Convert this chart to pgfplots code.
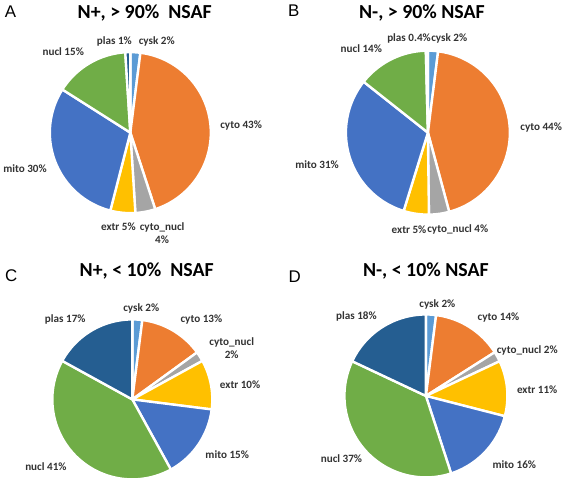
\documentclass[border=0pt]{standalone}
\usepackage{pgfplots}
\pgfplotsset{compat=1.18}
\usepackage{fontspec}
\setmainfont{Carlito}
\newfontfamily\arialf{Liberation Sans}
\definecolor{ccysk}{HTML}{5B9BD5}
\definecolor{ccyto}{HTML}{ED7D31}
\definecolor{ccn}{HTML}{A5A5A5}
\definecolor{cextr}{HTML}{FFC000}
\definecolor{cmito}{HTML}{4472C4}
\definecolor{cnucl}{HTML}{70AD47}
\definecolor{cplas}{HTML}{255E91}
\definecolor{labtxt}{HTML}{333333}
\newcommand\lf{\fontsize{11.2bp}{13bp}\selectfont\bfseries\color{labtxt}}
\newcommand\tf{\fontsize{20bp}{24bp}\selectfont\bfseries}
\newcommand\pf{\arialf\fontsize{17bp}{20bp}\selectfont}
% \pie{cx}{cy}{r}{total}{value/colour,...}  (clockwise from 12 o'clock)
\newcommand\pie[5]{%
  \gdef\pieCum{0}%
  \foreach \sliceVal/\sliceCol in {#5} {%
    \edef\sliceA{\fpeval{360*\pieCum/#4}}%
    \xdef\pieCum{\fpeval{\pieCum+\sliceVal}}%
    \edef\sliceB{\fpeval{360*\pieCum/#4}}%
    \edef\temp{\noexpand\addplot[fill=\sliceCol, draw=white, line width=2.4bp, line join=round, domain=\sliceA:\sliceB, samples=80, variable=\noexpand\t]
      ({#1+#3*sin(\noexpand\t)},{#2-#3*cos(\noexpand\t)}) -- (axis cs:#1,#2) -- cycle;}%
    \temp
  }%
}
\begin{document}
\begin{tikzpicture}
\begin{axis}[width=567bp, height=482bp, scale only axis,
  xmin=0, xmax=567, ymin=0, ymax=482, y dir=reverse,
  hide axis, clip=false,
  every node/.style={inner sep=0pt}]
\path (axis cs:0,0) rectangle (axis cs:567,482);
% A: N+, > 90% NSAF
\pie{127.5}{133.5}{81}{100}{2/ccysk, 43/ccyto, 4/ccn, 5/cextr, 30/cmito, 15/cnucl, 1/cplas}
% B: N-, > 90% NSAF
\pie{427}{133.5}{82.5}{100.4}{2/ccysk, 44/ccyto, 4/ccn, 5/cextr, 31/cmito, 14/cnucl, 0.4/cplas}
% C: N+, < 10% NSAF
\pie{129.5}{402}{80.5}{100}{2/ccysk, 13/ccyto, 2/ccn, 10/cextr, 15/cmito, 41/cnucl, 17/cplas}
% D: N-, < 10% NSAF
\pie{425}{398.5}{82}{100}{2/ccysk, 14/ccyto, 2/ccn, 11/cextr, 16/cmito, 37/cnucl, 18/cplas}

% panel letters
\node[font=\pf] at (axis cs:7,12) {A};
\node[font=\pf] at (axis cs:292,11) {B};
\node[font=\pf] at (axis cs:7.5,277) {C};
\node[font=\pf] at (axis cs:293,278) {D};
% titles
\node[font=\tf] at (axis cs:142,13) {N+, > 90\%\ \ NSAF};
\node[font=\tf] at (axis cs:421,13) {N-, > 90\% NSAF};
\node[font=\tf] at (axis cs:144,273) {N+, < 10\%\ \ NSAF};
\node[font=\tf] at (axis cs:425,273) {N-, < 10\% NSAF};

% labels A
\node[font=\lf, anchor=east] at (axis cs:132.5,42) {plas 1\%};
\node[font=\lf, anchor=west] at (axis cs:132.5,42) {cysk 2\%};
\node[font=\lf] at (axis cs:60,52) {nucl 15\%};
\node[font=\lf] at (axis cs:239,126) {cyto 43\%};
\node[font=\lf] at (axis cs:21.5,170) {mito 30\%};
\node[font=\lf] at (axis cs:115.5,228) {extr 5\%};
\node[font=\lf, align=center] at (axis cs:159.5,234.5) {cyto\_nucl\\4\%};
% labels B
\node[font=\lf] at (axis cs:408,39) {plas 0.4\%};
\node[font=\lf] at (axis cs:448.5,39) {cysk 2\%};
\node[font=\lf] at (axis cs:360,49) {nucl 14\%};
\node[font=\lf] at (axis cs:541,128) {cyto 44\%};
\node[font=\lf] at (axis cs:315.5,166) {mito 31\%};
\node[font=\lf] at (axis cs:408,231) {extr 5\%};
\node[font=\lf] at (axis cs:457,231) {cyto\_nucl 4\%};
% labels C
\node[font=\lf] at (axis cs:138.5,310) {cysk 2\%};
\node[font=\lf] at (axis cs:199,322) {cyto 13\%};
\node[font=\lf, align=center] at (axis cs:229.5,350) {cyto\_nucl\\2\%};
\node[font=\lf] at (axis cs:238,387) {extr 10\%};
\node[font=\lf] at (axis cs:225,458) {mito 15\%};
\node[font=\lf] at (axis cs:42.5,470) {nucl 41\%};
\node[font=\lf] at (axis cs:62,322) {plas 17\%};
% labels D
\node[font=\lf] at (axis cs:436.5,306) {cysk 2\%};
\node[font=\lf] at (axis cs:498,320) {cyto 14\%};
\node[font=\lf] at (axis cs:527,353) {cyto\_nucl 2\%};
\node[font=\lf] at (axis cs:537,392) {extr 11\%};
\node[font=\lf] at (axis cs:514,468) {mito 16\%};
\node[font=\lf] at (axis cs:340,462) {nucl 37\%};
\node[font=\lf] at (axis cs:355,319) {plas 18\%};
\end{axis}
\end{tikzpicture}
\end{document}
